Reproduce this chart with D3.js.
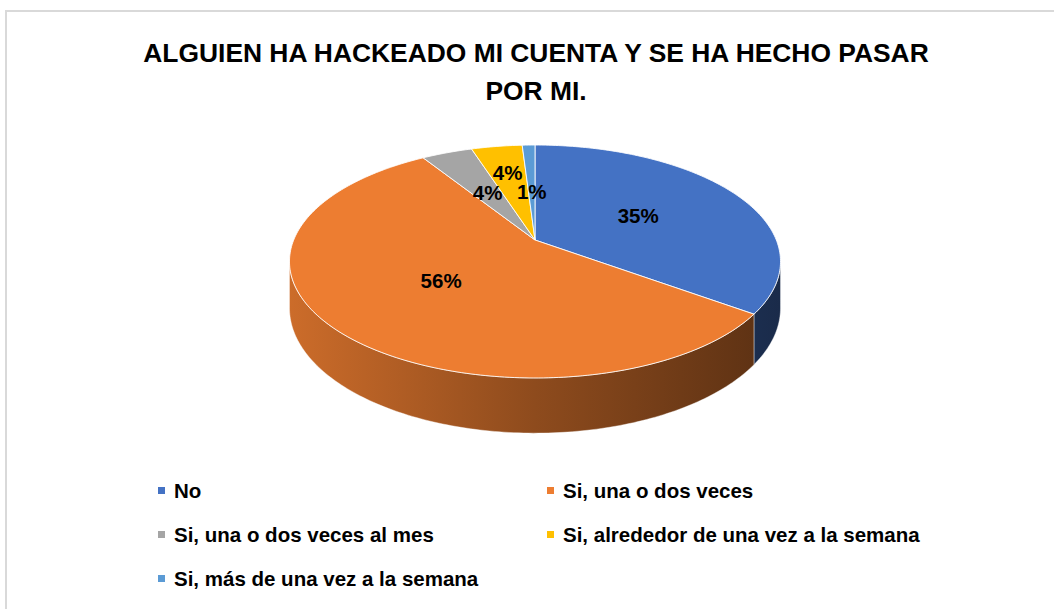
<!DOCTYPE html>
<html>
<head>
<meta charset="utf-8">
<script src="https://cdn.jsdelivr.net/npm/d3@7"></script>
<style>
  body { margin: 0; background: #fff; }
  text { font-family: "Liberation Sans", Arial, sans-serif; font-weight: bold; fill: #000; }
</style>
</head>
<body>
<script>
(function() {

	var width = 1054;
	var height = 609;

	// data
	var categories = ['No', 'Si, una o dos veces', 'Si, una o dos veces al mes',
		'Si, alrededor de una vez a la semana', 'Si, más de una vez a la semana'];
	var values = [35, 56, 4, 4, 1];
	var labels = ['35%', '56%', '4%', '4%', '1%'];
	var colors = ['#4472C4', '#ED7D31', '#A5A5A5', '#FFC000', '#5B9BD5'];
	var titleLines = ['ALGUIEN HA HACKEADO MI CUENTA Y SE HA HECHO PASAR', 'POR MI.'];

	// label distance from the centre (fraction of radius), as excel placed them
	var labelRadius = [0.5, 0.5, 0.5, 0.68, 0.47];

	// 3d projection of the disc
	var cx = 535, cy = 240;
	var B = 241.3, A = 112.5, k = 0.1845, H0 = 45;

	function proj(theta, r) {
		var u = r * Math.sin(theta), v = r * Math.cos(theta);
		var d = 1 + k * v;
		return [cx + B * u / d, cy - A * v / d];
	}
	function depth(theta) {
		return H0 / (1 + k * Math.cos(theta));
	}

	var svg = d3.select('body')
		.append('svg')
			.attr('width', width)
			.attr('height', height);

	// chart frame
	svg.append('rect')
		.attr('x', 6)
		.attr('y', 11)
		.attr('width', width + 20)
		.attr('height', height + 20)
		.style('fill', 'none')
		.style('stroke', '#d9d9d9')
		.style('stroke-width', 2);

	// title
	svg.selectAll('.title')
		.data(titleLines)
		.enter()
		.append('text')
			.attr('class', 'title')
			.attr('x', 536)
			.attr('y', function(d, i) { return 62 + i * 38; })
			.attr('text-anchor', 'middle')
			.style('font-size', '26.4px')
			.text(function(d) { return d; });

	var pie = d3.pie().sort(null).value(function(d) { return d; });
	var arcs = pie(values);

	// side gradients
	var defs = svg.append('defs');
	var left = proj(-Math.acos(-k), 1)[0], right = proj(Math.acos(-k), 1)[0];
	colors.forEach(function(c, i) {
		var g = defs.append('linearGradient')
			.attr('id', 'side' + i)
			.attr('gradientUnits', 'userSpaceOnUse')
			.attr('x1', left).attr('x2', right)
			.attr('y1', 0).attr('y2', 0);
		[[0, 0.86], [0.5, 0.6], [1, 0.38]].forEach(function(s) {
			var rgb = d3.rgb(c);
			g.append('stop')
				.attr('offset', s[0])
				.attr('stop-color', d3.rgb(rgb.r * s[1], rgb.g * s[1], rgb.b * s[1]).toString());
		});
	});

	var line = d3.line().curve(d3.curveLinearClosed);
	var a0 = Math.acos(-k), a1 = 2 * Math.PI - a0;

	// outer walls (front half only)
	arcs.forEach(function(d, i) {
		var t1 = Math.max(d.startAngle, a0), t2 = Math.min(d.endAngle, a1);
		if (t2 <= t1) return;
		var top = [], bottom = [];
		var n = Math.max(4, Math.ceil((t2 - t1) * 60));
		for (var j = 0; j <= n; j++) {
			var t = t1 + (t2 - t1) * j / n;
			var p = proj(t, 1);
			top.push(p);
			bottom.push([p[0], p[1] + depth(t)]);
		}
		svg.append('path')
			.attr('d', line(top.concat(bottom.reverse())))
			.style('fill', 'url(#side' + i + ')')
			.style('stroke', '#fff')
			.style('stroke-opacity', 0.5)
			.style('stroke-width', 0.8);
	});

	// top faces
	arcs.forEach(function(d, i) {
		var pts = [proj(0, 0)];
		var n = Math.max(4, Math.ceil((d.endAngle - d.startAngle) * 60));
		for (var j = 0; j <= n; j++) {
			pts.push(proj(d.startAngle + (d.endAngle - d.startAngle) * j / n, 1));
		}
		svg.append('path')
			.attr('d', line(pts))
			.style('fill', colors[i])
			.style('stroke', '#fff')
			.style('stroke-opacity', 0.85)
			.style('stroke-width', 1);
	});

	// data labels
	svg.selectAll('.lbl')
		.data(arcs)
		.enter()
		.append('text')
			.attr('class', 'lbl')
			.attr('text-anchor', 'middle')
			.attr('dy', '0.36em')
			.style('font-size', '20.5px')
			.attr('transform', function(d, i) {
				var p = proj((d.startAngle + d.endAngle) / 2, labelRadius[i]);
				return 'translate(' + p[0] + ',' + p[1] + ')';
			})
			.text(function(d, i) { return labels[i]; });

	// legend
	var legend = svg.selectAll('.leg')
		.data(categories)
		.enter()
		.append('g')
			.attr('class', 'leg')
			.attr('transform', function(d, i) {
				return 'translate(' + [158, 547][i % 2] + ',' + (491 + Math.floor(i / 2) * 44) + ')';
			});

	legend.append('rect')
		.attr('x', 0)
		.attr('y', -4)
		.attr('width', 7)
		.attr('height', 7)
		.style('fill', function(d, i) { return colors[i]; });

	legend.append('text')
		.attr('x', 16)
		.attr('dy', '0.36em')
		.style('font-size', '20.5px')
		.text(function(d) { return d; });

})();
</script>
</body>
</html>
